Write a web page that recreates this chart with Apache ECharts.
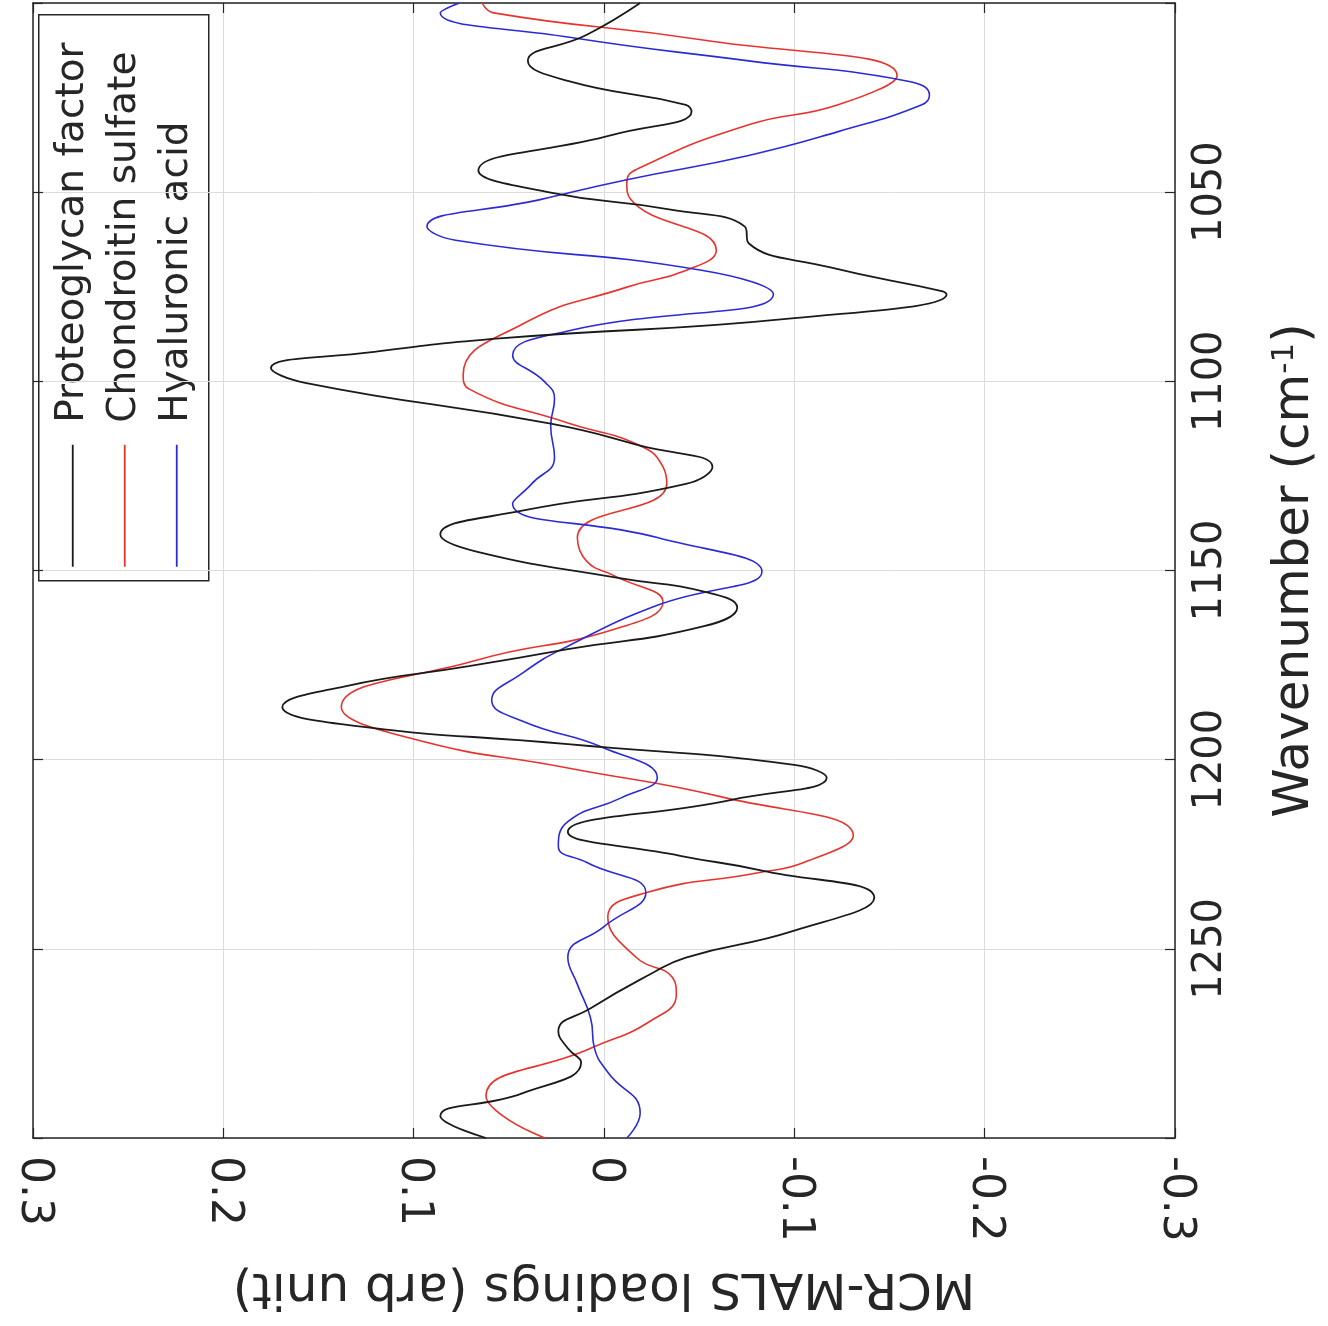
<!DOCTYPE html>
<html><head><meta charset="utf-8">
<script src="https://cdn.jsdelivr.net/npm/echarts@6/dist/echarts.min.js"></script>
<style>html,body{margin:0;padding:0;background:#fff}#c{width:1328px;height:1326px}</style>
</head><body><div id="c"></div>
<script>
const seriesNames = ['Proteoglycan factor', 'Chondroitin sulfate', 'Hyaluronic acid'];
const seriesColors = ['#1a1a1a', '#e8332d', '#2b2bd6'];

// Proteoglycan factor: wavenumber (cm-1) and loading
const pgWave = [1000.0,1008.4,1015.3,1020.6,1026.9,1028.7,1034.8,1044.3,1050.1,1054.6,1059.1,1063.5,1069.9,1076.2,1077.0,1083.3,1088.6,1092.3,1096.5,1100.4,1111.2,1117.0,1122.6,1127.1,1134.2,1140.5,1145.0,1152.1,1155.5,1159.8,1164.8,1170.8,1175.3,1180.6,1186.1,1190.6,1195.9,1201.4,1204.8,1210.6,1219.1,1225.4,1229.3,1236.5,1245.2,1252.3,1256.8,1265.7,1271.8,1276.3,1280.0,1288.2,1294.2,1300.0];
const pgLoad = [-0.019,0.009,0.040,0.019,-0.043,-0.046,-0.005,0.066,0.028,-0.035,-0.074,-0.076,-0.119,-0.178,-0.180,-0.100,0.053,0.122,0.175,0.157,0.028,-0.019,-0.057,-0.043,0.043,0.086,0.067,-0.009,-0.052,-0.070,-0.052,0.019,0.071,0.136,0.169,0.138,0.019,-0.100,-0.117,-0.067,0.019,-0.040,-0.083,-0.142,-0.100,-0.043,-0.024,0.007,0.024,0.019,0.012,0.043,0.086,0.062];

// Chondroitin sulfate
const csWave = [1000.0,1002.6,1009.8,1019.2,1026.9,1032.2,1044.0,1047.5,1051.9,1065.4,1070.7,1075.1,1084.9,1098.3,1102.0,1111.0,1117.0,1122.6,1127.1,1141.3,1147.6,1151.3,1158.4,1165.6,1173.7,1186.1,1194.3,1202.2,1210.1,1220.1,1227.2,1229.9,1235.2,1241.5,1252.3,1257.6,1262.0,1269.2,1276.3,1288.9,1294.2,1300.0];
const csLoad = [0.064,0.058,-0.052,-0.154,-0.123,-0.076,-0.017,-0.012,-0.014,-0.059,-0.043,-0.012,0.043,0.074,0.071,0.019,-0.019,-0.031,-0.033,0.014,0.009,-0.005,-0.031,-0.005,0.067,0.138,0.102,0.019,-0.064,-0.131,-0.105,-0.081,-0.022,-0.002,-0.017,-0.036,-0.038,-0.024,0.007,0.062,0.053,0.031];

// Hyaluronic acid
const haWave = [1000.0,1002.6,1009.0,1015.3,1020.6,1024.3,1026.9,1034.0,1040.3,1046.7,1051.9,1059.1,1062.7,1070.7,1077.0,1086.7,1093.1,1100.2,1104.7,1111.8,1120.0,1127.1,1132.3,1141.3,1150.3,1159.2,1170.0,1177.2,1184.3,1189.8,1196.9,1204.8,1210.1,1216.4,1222.8,1227.2,1235.2,1244.1,1252.3,1259.4,1268.4,1276.3,1282.6,1293.4,1300.0];
const haLoad = [0.076,0.086,0.019,-0.076,-0.159,-0.171,-0.167,-0.123,-0.076,-0.012,0.033,0.093,0.078,-0.052,-0.089,0.019,0.048,0.031,0.026,0.028,0.026,0.038,0.048,-0.028,-0.083,-0.028,0.019,0.043,0.059,0.043,0.000,-0.028,-0.009,0.019,0.024,0.009,-0.022,0.000,0.019,0.014,0.007,0.005,-0.002,-0.019,-0.012];

const loadTicks = [0.3, 0.2, 0.1, 0, -0.1, -0.2, -0.3];
const waveTicks = [1050, 1100, 1150, 1200, 1250];

const xName = 'MCR-MALS loadings (arb unit)';
const yName = 'Wavenumber (cm{sup|-1})';

const FONT = 'DejaVu Sans';
const AX = '#262626';
const GRIDC = '#dcdcdc';

function pairs(w, l) { return w.map((v, i) => [l[i], v]); }

const chart = echarts.init(document.getElementById('c'), null, {renderer: 'canvas'});

const axisLineStyle = {show: true, onZero: false, lineStyle: {color: AX, width: 1.5}};
const tickStyle = {show: true, inside: true, length: 10, lineStyle: {color: AX, width: 1.2}};

const option = {
  backgroundColor: '#fff',
  animation: false,
  textStyle: {fontFamily: FONT},
  grid: {left: 33, right: 153, top: 1, bottom: 188, containLabel: false},
  xAxis: [{
    type: 'value', min: -0.3, max: 0.3, interval: 0.1, inverse: true, position: 'bottom',
    axisLine: axisLineStyle, axisTick: tickStyle,
    splitLine: {show: true, lineStyle: {color: GRIDC, width: 1}},
    axisLabel: {
      rotate: -90, margin: 18, fontSize: 44, color: AX, fontFamily: FONT,
      formatter: v => { const r = Math.round(v * 10) / 10; return loadTicks.includes(r) ? String(r === 0 ? 0 : r) : ''; }
    },
    name: xName, nameLocation: 'middle', nameRotate: 180, nameGap: 124,
    nameTextStyle: {fontSize: 50, color: AX, fontFamily: FONT}
  }, {
    type: 'value', min: -0.3, max: 0.3, interval: 0.1, inverse: true, position: 'top',
    axisLine: axisLineStyle, axisTick: tickStyle,
    splitLine: {show: false}, axisLabel: {show: false}
  }],
  yAxis: [{
    type: 'value', min: 1000, max: 1300, interval: 50, inverse: true, position: 'right',
    axisLine: axisLineStyle, axisTick: tickStyle,
    splitLine: {show: true, lineStyle: {color: GRIDC, width: 1}},
    axisLabel: {
      rotate: 90, margin: 16, fontSize: 40, color: AX, fontFamily: FONT,
      align: 'center', verticalAlign: 'top',
      formatter: v => waveTicks.includes(v) ? String(v) : ''
    },
    name: yName, nameLocation: 'middle', nameRotate: 90, nameGap: 94,
    nameTextStyle: {fontSize: 50, color: AX, fontFamily: FONT,
      rich: {sup: {fontSize: 31, color: AX, fontFamily: FONT, padding: [0, 0, 21, 0]}}}
  }, {
    type: 'value', min: 1000, max: 1300, interval: 50, inverse: true, position: 'left',
    axisLine: axisLineStyle, axisTick: tickStyle,
    splitLine: {show: false}, axisLabel: {show: false}
  }],
  series: [
    {name: seriesNames[0], type: 'line', xAxisIndex: 0, yAxisIndex: 0, data: pairs(pgWave, pgLoad),
     smooth: 0.5, showSymbol: false, lineStyle: {color: seriesColors[0], width: 1.8}, z: 4},
    {name: seriesNames[1], type: 'line', xAxisIndex: 0, yAxisIndex: 0, data: pairs(csWave, csLoad),
     smooth: 0.5, showSymbol: false, lineStyle: {color: seriesColors[1], width: 1.6}, z: 3},
    {name: seriesNames[2], type: 'line', xAxisIndex: 0, yAxisIndex: 0, data: pairs(haWave, haLoad),
     smooth: 0.5, showSymbol: false, lineStyle: {color: seriesColors[2], width: 1.6}, z: 3}
  ],
  graphic: [{
    type: 'group', left: 38, top: 14, z: 100,
    children: [
      {type: 'rect', shape: {x: 0, y: 0, width: 170, height: 566}, style: {fill: '#fff', stroke: AX, lineWidth: 1.5}},
      ...seriesNames.map((n, i) => ({
        type: 'line', shape: {x1: 34 + i * 52, y1: 552, x2: 34 + i * 52, y2: 430},
        style: {stroke: seriesColors[i], lineWidth: 1.8}
      })),
      ...seriesNames.map((n, i) => ({
        type: 'text', x: 34 + i * 52, y: 408, rotation: Math.PI / 2,
        style: {text: n, fontSize: 39, fontFamily: FONT, fill: AX, textAlign: 'left', textVerticalAlign: 'middle'}
      }))
    ]
  }]
};
chart.setOption(option);
</script></body></html>
